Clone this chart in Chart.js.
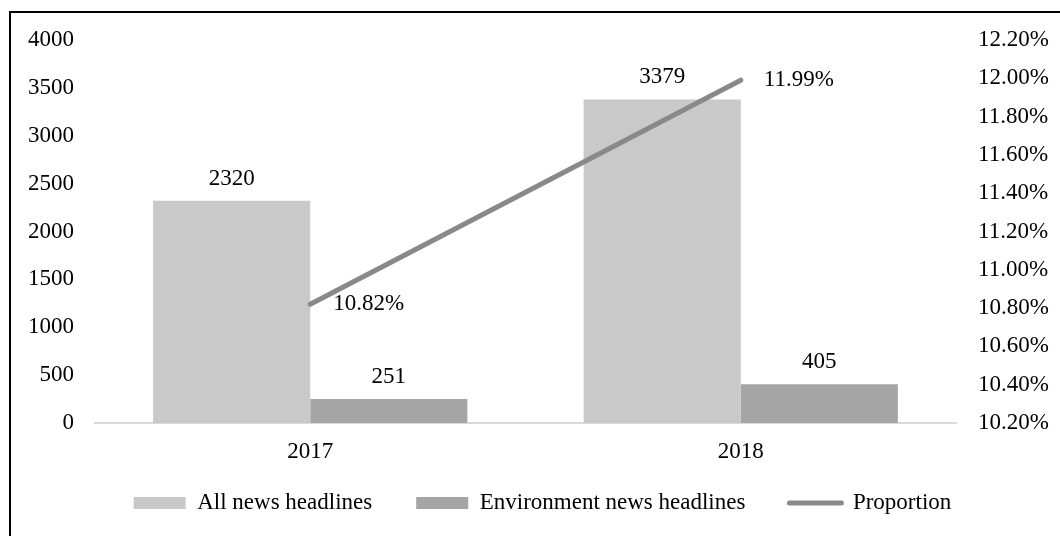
<!DOCTYPE html>
<html>
<head>
<meta charset="utf-8">
<script src="https://cdn.jsdelivr.net/npm/chart.js@4.4.1/dist/chart.umd.min.js"></script>
<style>
  html, body { margin: 0; padding: 0; background: #ffffff; }
  #wrap { width: 1060px; height: 536px; position: relative; }
</style>
</head>
<body>
<div id="wrap"><canvas id="chart" width="1060" height="536"></canvas></div>
<script>
// Headline counts per year and the share of environment headlines
const years = ['2017', '2018'];
const allHeadlines = [2320, 3379];
const envHeadlines = [251, 405];
const proportionPct = [10.82, 11.99];

// Axis ranges
const countMin = 0, countMax = 4000, countStep = 500;
const pctMin = 10.2, pctMax = 12.2, pctStep = 0.2;

const FONT = { family: "'Liberation Serif', 'Times New Roman', serif", size: 23 };
const TEXT = '#000000';

// Thin frame along the top and left edges
const framePlugin = {
  id: 'frame',
  beforeDraw(chart) {
    const ctx = chart.ctx;
    ctx.save();
    ctx.strokeStyle = '#000000';
    ctx.lineWidth = 2;
    ctx.beginPath();
    ctx.moveTo(1060, 12);
    ctx.lineTo(10, 12);
    ctx.lineTo(10, 536);
    ctx.stroke();
    ctx.restore();
  }
};

// The legend uses wide item spacing, which also pads it vertically;
// pull it up so it sits closer to the year labels.
const legendLiftPlugin = {
  id: 'legendLift',
  afterLayout(chart) {
    const lg = chart.legend;
    if (!lg) return;
    const lift = 23.5;
    lg.top -= lift;
    lg.bottom -= lift;
  }
};

// Value labels above bars and beside line points
const valueLabelPlugin = {
  id: 'valueLabels',
  afterDatasetsDraw(chart) {
    const ctx = chart.ctx;
    ctx.save();
    ctx.font = `${FONT.size}px ${FONT.family}`;
    ctx.fillStyle = TEXT;
    chart.data.datasets.forEach((ds, di) => {
      const meta = chart.getDatasetMeta(di);
      meta.data.forEach((el, i) => {
        const v = ds.data[i];
        if (ds.type === 'line') {
          ctx.textAlign = 'left';
          ctx.textBaseline = 'middle';
          ctx.fillText(v.toFixed(2) + '%', el.x + 23, el.y);
        } else {
          ctx.textAlign = 'center';
          ctx.textBaseline = 'alphabetic';
          ctx.fillText(String(v), el.x, el.y - 16);
        }
      });
    });
    ctx.restore();
  }
};

new Chart(document.getElementById('chart'), {
  data: {
    labels: years,
    datasets: [
      {
        type: 'bar',
        label: 'All news headlines',
        data: allHeadlines,
        backgroundColor: '#c9c9c9',
        borderWidth: 0,
        yAxisID: 'yCount',
        order: 2,
        categoryPercentage: 0.73,
        barPercentage: 1.0
      },
      {
        type: 'bar',
        label: 'Environment news headlines',
        data: envHeadlines,
        backgroundColor: '#a5a5a5',
        borderWidth: 0,
        yAxisID: 'yCount',
        order: 2,
        categoryPercentage: 0.73,
        barPercentage: 1.0
      },
      {
        type: 'line',
        label: 'Proportion',
        data: proportionPct,
        borderColor: '#898989',
        backgroundColor: '#898989',
        borderWidth: 5,
        borderCapStyle: 'round',
        pointRadius: 0,
        pointHoverRadius: 0,
        fill: false,
        tension: 0,
        yAxisID: 'yPct',
        order: 1
      }
    ]
  },
  options: {
    responsive: false,
    animation: false,
    events: [],
    layout: { padding: { left: 25, right: 0, top: 40, bottom: -12 } },
    scales: {
      x: {
        type: 'category',
        offset: true,
        grid: { display: false, drawTicks: false },
        border: { display: true, color: '#d9d9d9', width: 2 },
        ticks: { font: FONT, color: TEXT, padding: 15 },
        afterFit(scale) { scale.height = 48; }
      },
      yCount: {
        type: 'linear',
        position: 'left',
        min: countMin,
        max: countMax,
        grid: { display: false, drawTicks: false },
        border: { display: false },
        ticks: {
          stepSize: countStep,
          font: FONT,
          color: TEXT,
          padding: 21,
          callback: (v) => String(v)
        },
        afterFit(scale) { scale.width = 70; }
      },
      yPct: {
        type: 'linear',
        position: 'right',
        min: pctMin,
        max: pctMax,
        grid: { display: false, drawTicks: false },
        border: { display: false },
        ticks: {
          stepSize: pctStep,
          font: FONT,
          color: TEXT,
          padding: 22,
          callback: (v) => v.toFixed(2) + '%'
        },
        afterFit(scale) { scale.width = 104; }
      }
    },
    plugins: {
      tooltip: { enabled: false },
      legend: {
        position: 'bottom',
        labels: {
          font: FONT,
          color: TEXT,
          usePointStyle: true,
          pointStyleWidth: 52,
          boxHeight: 12,
          padding: 44,
          sort: (a, b) => a.datasetIndex - b.datasetIndex,
          generateLabels(chart) {
            const items = Chart.defaults.plugins.legend.labels.generateLabels(chart);
            items.forEach((it) => {
              const ds = chart.data.datasets[it.datasetIndex];
              if (ds.type === 'line') {
                it.pointStyle = 'line';
                it.strokeStyle = ds.borderColor;
                it.lineWidth = 5;
                it.lineCap = 'round';
              } else {
                it.pointStyle = 'rect';
                it.fillStyle = ds.backgroundColor;
                it.lineWidth = 0;
              }
            });
            return items;
          }
        }
      }
    }
  },
  plugins: [framePlugin, legendLiftPlugin, valueLabelPlugin]
});
</script>
</body>
</html>
